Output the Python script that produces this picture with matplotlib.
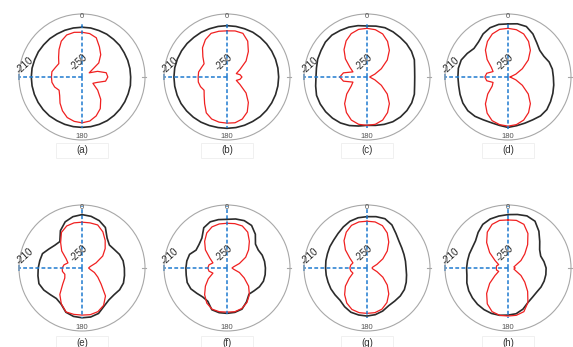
import numpy as np
import matplotlib.pyplot as plt
from matplotlib.patches import Rectangle

plt.rcParams['font.family'] = ['Liberation Sans', 'DejaVu Sans']

# angle in degrees, clockwise from the top (0) ; radius in dB
angles = np.arange(0, 360, 10)

black_a = [-218.4, -218.4, -218.6, -218.6, -218.8, -218.8, -219.1, -219.1, -219.1, -219.1, -218.8, -218.8,
           -218.6, -218.4, -218.2, -218.0, -218.0, -218.0, -218.0, -218.0, -218.0, -218.0, -217.8, -217.8,
           -217.8, -217.8, -217.8, -217.8, -217.8, -218.0, -218.0, -218.2, -218.2, -218.4, -218.4, -218.4]
red_a = [-221.6, -222.0, -223.5, -227.9, -231.5, -236.1, -244.7, -239.5, -234.4, -233.6, -234.8, -239.9,
         -242.0, -237.0, -231.5, -226.8, -223.7, -221.6, -220.9, -221.4, -222.6, -225.2, -228.3, -231.5,
         -233.2, -231.5, -230.6, -230.6, -230.6, -232.1, -233.0, -230.6, -227.3, -223.7, -221.6, -221.2]

black_b = [-217.4, -217.4, -217.4, -217.2, -217.2, -217.2, -217.2, -217.2, -217.2, -217.2, -217.2, -217.2,
           -217.2, -217.2, -217.2, -217.4, -217.4, -217.4, -217.4, -217.4, -217.2, -216.9, -216.7, -216.5,
           -216.3, -216.3, -216.3, -216.3, -216.3, -216.5, -216.7, -216.9, -217.2, -217.2, -217.4, -217.4]
red_b = [-220.7, -220.3, -220.5, -223.7, -228.9, -234.2, -240.5, -243.7, -241.6, -240.5, -241.6, -243.7,
         -240.5, -234.2, -228.9, -224.3, -221.6, -220.5, -220.7, -220.9, -221.6, -223.7, -227.9, -231.1,
         -233.2, -232.1, -231.5, -231.7, -231.7, -232.7, -233.2, -230.0, -225.8, -222.6, -220.5, -220.5]

black_c = [-217.6, -217.2, -216.7, -216.9, -217.2, -217.2, -217.4, -218.0, -219.3, -219.7, -219.3, -218.0,
           -217.2, -216.9, -216.9, -217.2, -218.0, -218.8, -219.3, -218.4, -217.2, -216.3, -215.9, -215.7,
           -215.7, -215.9, -216.9, -217.6, -217.4, -216.7, -216.3, -215.5, -215.3, -215.9, -216.3, -216.9]
red_c = [-219.1, -219.5, -220.9, -223.9, -227.9, -233.2, -239.5, -244.7, -247.5, -248.3, -247.5, -244.7,
         -239.5, -233.2, -227.9, -223.9, -220.9, -219.5, -219.3, -219.5, -220.9, -223.9, -227.9, -233.2,
         -238.4, -240.5, -234.8, -232.7, -234.8, -240.5, -237.4, -232.1, -227.3, -223.5, -220.7, -219.3]

black_d = [-216.3, -215.7, -215.9, -218.4, -221.6, -223.7, -223.7, -222.2, -221.4, -221.2, -220.5, -219.7,
           -218.8, -217.8, -217.8, -218.6, -218.8, -218.6, -218.0, -218.8, -219.1, -218.6, -217.4, -216.7,
           -216.9, -217.6, -218.2, -218.2, -218.0, -218.4, -220.1, -221.8, -220.9, -218.4, -216.7, -216.1]
red_d = [-219.1, -219.5, -220.9, -223.9, -227.9, -233.2, -239.5, -244.7, -247.9, -248.9, -247.9, -244.7,
         -239.5, -233.2, -227.9, -223.9, -220.9, -219.3, -218.8, -219.3, -220.5, -223.5, -227.7, -233.2,
         -238.4, -239.9, -236.3, -235.3, -236.3, -239.9, -237.8, -232.7, -227.7, -223.9, -220.9, -219.3]

black_e = [-216.1, -216.7, -218.0, -220.3, -225.2, -227.3, -226.4, -224.7, -223.5, -223.1, -222.6, -222.0,
           -222.4, -223.5, -223.5, -222.0, -219.3, -218.4, -218.4, -218.8, -220.1, -223.5, -224.7, -223.7,
           -222.0, -220.9, -221.6, -222.2, -222.8, -223.3, -225.8, -227.5, -228.1, -222.6, -218.8, -216.9]
red_e = [-220.9, -220.9, -220.9, -223.5, -227.1, -230.8, -234.8, -240.5, -244.7, -245.8, -244.7, -241.6,
         -238.4, -234.2, -226.8, -222.6, -220.5, -219.9, -220.1, -220.1, -220.3, -223.7, -228.1, -234.0,
         -237.4, -238.4, -237.4, -237.4, -238.4, -240.5, -238.4, -233.2, -228.9, -223.9, -221.6, -220.9]

black_f = [-219.1, -218.4, -218.0, -218.8, -222.0, -226.4, -227.1, -226.2, -225.8, -225.6, -225.4, -225.4,
           -226.2, -227.5, -228.3, -225.2, -222.2, -221.4, -221.2, -221.2, -221.8, -225.6, -226.0, -225.0,
           -223.5, -223.1, -223.7, -223.9, -224.1, -224.7, -227.3, -226.8, -225.2, -220.5, -218.8, -218.8]
red_f = [-221.6, -221.4, -221.6, -223.7, -227.9, -232.1, -236.3, -241.6, -245.8, -246.8, -245.8, -241.6,
         -237.4, -232.1, -227.9, -224.7, -222.6, -221.8, -222.0, -221.8, -222.2, -224.3, -227.9, -232.1,
         -236.3, -240.5, -238.4, -237.8, -238.4, -240.5, -237.4, -232.1, -227.9, -224.3, -222.2, -221.6]

black_g = [-217.4, -216.9, -216.7, -218.4, -221.4, -223.5, -224.5, -225.0, -225.2, -225.2, -224.5, -223.5,
           -222.6, -222.4, -222.6, -222.4, -220.9, -219.9, -219.5, -219.7, -220.1, -221.6, -223.3, -223.5,
           -223.5, -223.7, -223.7, -223.7, -223.5, -223.3, -222.8, -222.4, -221.4, -219.9, -218.4, -217.6]
red_g = [-220.3, -220.3, -221.4, -224.3, -228.5, -233.2, -238.4, -243.3, -246.2, -246.8, -246.2, -243.3,
         -238.4, -233.2, -228.5, -224.7, -222.2, -221.2, -221.2, -221.2, -222.0, -224.3, -227.9, -232.1,
         -237.0, -240.5, -239.5, -239.1, -239.5, -240.5, -237.4, -232.1, -227.3, -223.7, -221.2, -220.3]

black_h = [-216.1, -215.5, -214.8, -215.7, -219.5, -223.7, -226.8, -227.9, -226.8, -225.8, -225.6, -225.6,
           -225.8, -226.2, -225.8, -224.7, -222.2, -220.5, -220.1, -219.5, -219.3, -219.5, -219.9, -220.5,
           -221.2, -222.2, -223.5, -223.7, -223.9, -223.9, -223.9, -223.1, -220.5, -218.0, -216.9, -216.5]
red_h = [-219.5, -219.3, -220.5, -224.7, -230.6, -236.1, -240.5, -244.7, -246.2, -245.4, -246.2, -244.7,
         -240.5, -236.1, -230.6, -224.7, -220.5, -219.5, -219.5, -219.5, -220.5, -223.7, -228.9, -234.8,
         -240.5, -243.7, -242.6, -242.6, -242.6, -243.7, -240.5, -234.8, -228.9, -223.7, -220.5, -219.3]

# blue dashed markers: upper and lower end of the vertical one (dB)
blue_top = [-216.3, -216.5, -216.3, -216.3, -210.4, -210.6, -211.4, -210.4]
blue_bottom = [-217.4, -217.6, -217.6, -216.7, -218.0, -220.5, -218.0, -218.0]

panel_labels = ['(a)', '(b)', '(c)', '(d)', '(e)', '(f)', '(g)', '(h)']
blacks = [black_a, black_b, black_c, black_d, black_e, black_f, black_g, black_h]
reds = [red_a, red_b, red_c, red_d, red_e, red_f, red_g, red_h]

rmin, rmax = -250, -210
W, H = 573, 347
R = 63
centers = [(82, 77), (227, 77), (367, 77), (508, 77),
           (82, 268), (227, 268), (367, 268), (508, 268)]
blue = '#1f7bd0'

fig = plt.figure(figsize=(W / 100, H / 100), dpi=100)

th = np.deg2rad(np.append(angles, angles[0]))
for i, (cx, cy) in enumerate(centers):
    ax = fig.add_axes([(cx - R) / W, (H - cy - R) / H, 2 * R / W, 2 * R / H], projection='polar')
    ax.set_theta_zero_location('N')
    ax.set_theta_direction(-1)
    ax.set_ylim(rmin, rmax)
    ax.set_xticks([])
    ax.set_yticks([])
    ax.grid(False)
    ax.spines['polar'].set_color('#a8a8a8')
    ax.spines['polar'].set_linewidth(0.8)

    ax.plot(th, np.append(blacks[i], blacks[i][0]), color='#2b2b2b', lw=1.2)
    ax.plot(th, np.append(reds[i], reds[i][0]), color='#f02020', lw=0.9)

    # blue dashed cross
    ax.plot([0, 0], [rmin, blue_top[i]], color=blue, lw=1.1, dashes=(2.5, 1.5), clip_on=False)
    ax.plot([np.pi, np.pi], [rmin, blue_bottom[i]], color=blue, lw=1.1, dashes=(2.5, 1.5), clip_on=False)
    ax.plot([1.5 * np.pi] * 2, [rmin, rmax], color=blue, lw=1.1, dashes=(2.5, 1.5), clip_on=False)
    ax.plot([1.5 * np.pi], [rmax], marker='|', ms=5, mew=1.1, color=blue, clip_on=False)

    # small ticks at 90 deg
    ax.plot([0.5 * np.pi] * 2, [-212.2, -209.6], color='#a8a8a8', lw=0.8, clip_on=False)

    ax.text(0, -211.8, '0', fontsize=5.5, color='#555555', ha='center', va='center')
    ax.text(np.pi, -212.0, '180', fontsize=5.5, color='#555555', ha='center', va='center')
    ax.text(0.047, 0.595, '-210', transform=ax.transAxes, fontsize=7, color='#262626',
            rotation=42, ha='center', va='center')
    ax.text(0.471, 0.613, '-250', transform=ax.transAxes, fontsize=7, color='#262626',
            rotation=42, ha='center', va='center')

    ly = cy + 73 if i < 4 else 343
    fig.patches.append(Rectangle(((cx - 26) / W, (H - ly - 7.5) / H), 52 / W, 15 / H,
                                 transform=fig.transFigure, fill=False, ec='#eeeeee', lw=0.6))
    fig.text(cx / W, (H - ly) / H, panel_labels[i], fontsize=7, color='#333333',
             ha='center', va='center')

fig.savefig('out.png', dpi=100)
